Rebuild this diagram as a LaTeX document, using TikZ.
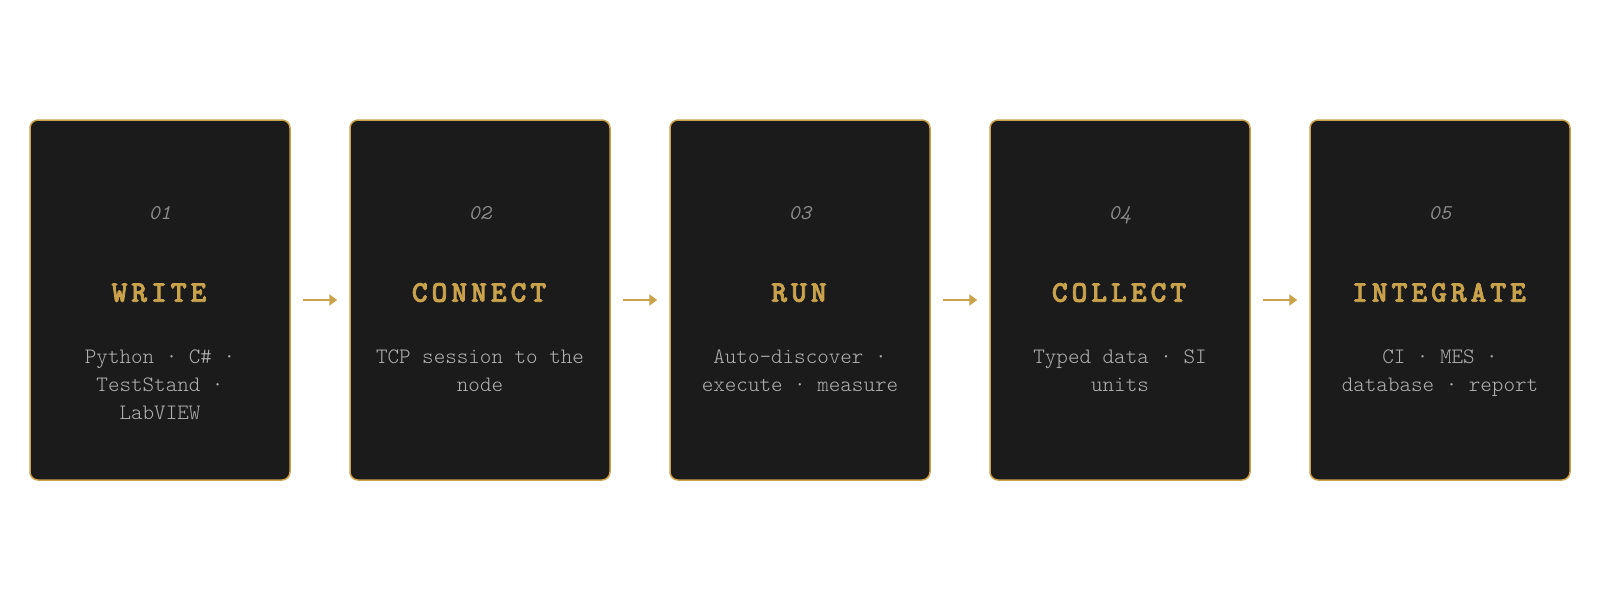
\documentclass[tikz,border=0pt]{standalone}
\usepackage{fontspec}
\usetikzlibrary{arrows.meta}
\newfontfamily\numfont{lmmono10-italic}[Extension=.otf]
\newfontfamily\ttlfont{lmmonolt10-bold}[Extension=.otf, FakeBold=2.5]
\newfontfamily\descfont{lmmonolt10-regular}[Extension=.otf]
\definecolor{gold}{HTML}{C9A24B}
\definecolor{cardbg}{HTML}{1B1B1B}
\definecolor{bodygrey}{HTML}{B2B2B2}
\definecolor{numgrey}{HTML}{8A8A8A}
\newcommand\fixsp{\spaceskip=\fontcharwd\font`x\relax\xspaceskip=\spaceskip}
\makeatletter
\def\trk#1{\trk@#1\@nil}
\def\trk@#1{\ifx#1\@nil\else#1\kern2pt\expandafter\trk@\fi}
\makeatother
\begin{document}
\begin{tikzpicture}[x=0.5pt,y=-0.5pt,
 card/.style={draw=gold, line width=0.75pt, fill=cardbg, rounded corners=4pt, minimum width=130pt, minimum height=180pt, inner sep=0pt},
 num/.style={font=\numfont\fontsize{10.5}{12}\selectfont, text=numgrey, anchor=base, inner sep=0pt},
 ttl/.style={font=\ttlfont\fontsize{15}{18}\selectfont, text=gold, anchor=base, inner sep=0pt},
 desc/.style={font=\descfont\fontsize{11}{14}\selectfont, execute at begin node=\fixsp, text=bodygrey, anchor=base, inner sep=0pt, text width=125pt, align=center},
 arr/.style={draw=gold, line width=1pt, -{Triangle[length=4pt,width=5.5pt]}}]
\fill[white] (0,0) rectangle (1600,600);
\useasboundingbox (0,0) rectangle (1600,600);

\node[card] (c1) at (160,300) {};
\node[num] (n1) at (160,219.3) {01};
\node[ttl] (t1) at (161,301.7) {\trk{WRITE}};
\node[desc] (d1) at (160,363.3) {Python · C\# ·\\TestStand ·\\LabVIEW};

\node[card] (c2) at (480,300) {};
\node[num] (n2) at (480,219.3) {02};
\node[ttl] (t2) at (481,301.7) {\trk{CONNECT}};
\node[desc] (d2) at (480,363.3) {TCP session to the\\node};

\node[card] (c3) at (800,300) {};
\node[num] (n3) at (800,219.3) {03};
\node[ttl] (t3) at (801,301.7) {\trk{RUN}};
\node[desc] (d3) at (800,363.3) {Auto-discover ·\\execute · measure};

\node[card] (c4) at (1120,300) {};
\node[num] (n4) at (1120,219.3) {04};
\node[ttl] (t4) at (1121,301.7) {\trk{COLLECT}};
\node[desc] (d4) at (1120,363.3) {Typed data · SI\\units};

\node[card] (c5) at (1440,300) {};
\node[num] (n5) at (1440,219.3) {05};
\node[ttl] (t5) at (1441,301.7) {\trk{INTEGRATE}};
\node[desc] (d5) at (1440,363.3) {CI · MES ·\\database · report};

\draw[arr] ([xshift=6pt]c1.east) -- ([xshift=-6pt]c2.west);
\draw[arr] ([xshift=6pt]c2.east) -- ([xshift=-6pt]c3.west);
\draw[arr] ([xshift=6pt]c3.east) -- ([xshift=-6pt]c4.west);
\draw[arr] ([xshift=6pt]c4.east) -- ([xshift=-6pt]c5.west);
\end{tikzpicture}
\end{document}
